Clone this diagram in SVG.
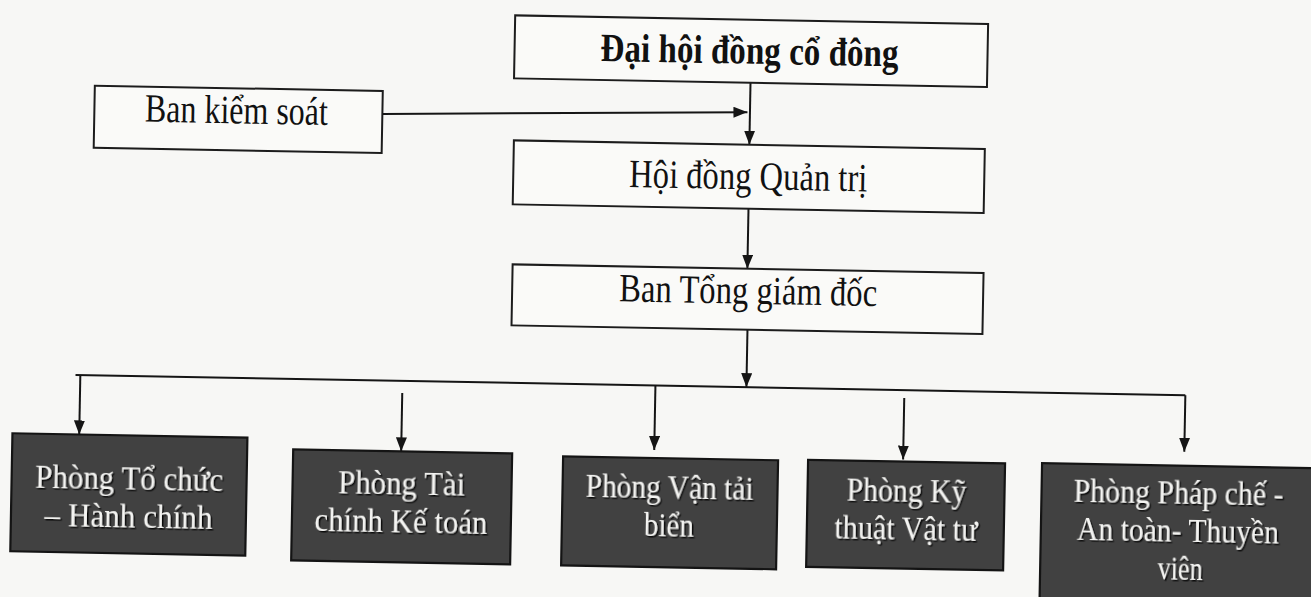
<svg xmlns="http://www.w3.org/2000/svg" width="1311" height="597" viewBox="0 0 1311 597">
<defs>
<style>
.box{fill:#fafaf8;stroke:#1c1c1c;stroke-width:2}
.dark{fill:#414141;stroke:#141414;stroke-width:2.2}
.t{font-family:"Liberation Serif","Times New Roman",serif;font-size:40px;fill:#111;text-anchor:middle}
.b{font-weight:bold}
.w{font-family:"Liberation Serif","Times New Roman",serif;font-size:33px;fill:#f4f4f2;text-anchor:middle;filter:url(#sh)}
.ln{fill:none;stroke:#151515;stroke-width:2}
.ar{marker-end:url(#ah)}
</style>
<marker id="ah" viewBox="0 0 14 11" markerWidth="14" markerHeight="11" refX="14" refY="5.5" orient="auto" markerUnits="userSpaceOnUse"><path d="M0,0 L14,5.5 L0,11 z" fill="#151515"/></marker>
<filter id="sh" x="-10%" y="-30%" width="130%" height="160%"><feDropShadow dx="1.5" dy="1.5" stdDeviation="0.6" flood-color="#000" flood-opacity="0.9"/></filter>
</defs>
<rect x="0" y="0" width="1311" height="597" fill="#f7f7f5"/>
<g transform="rotate(1.05 655 300)">
<g id="connectors">
<line class="ln ar" x1="746.5" y1="81" x2="746.5" y2="143"/>
<line class="ln ar" x1="379" y1="119" x2="744" y2="110.5"/>
<line class="ln ar" x1="746.8" y1="207" x2="746.8" y2="267"/>
<line class="ln ar" x1="748" y1="328" x2="748" y2="385.5"/>
<line class="ln" x1="77" y1="385.5" x2="1187" y2="385.5"/>
<line class="ln ar" x1="81.8" y1="385.5" x2="81.8" y2="445"/>
<line class="ln ar" x1="404" y1="397.6" x2="404" y2="456"/>
<line class="ln ar" x1="657" y1="385.5" x2="657" y2="450"/>
<line class="ln ar" x1="906" y1="393.4" x2="906" y2="455"/>
<line class="ln ar" x1="1187" y1="385.5" x2="1187" y2="442"/>
</g>
<g id="dai-hoi-dong-co-dong">
<rect class="box" x="510" y="18" width="473" height="63"/>
<text class="t b" x="745" y="62" textLength="298" lengthAdjust="spacingAndGlyphs">Đại hội đồng cổ đông</text>
</g>
<g id="ban-kiem-soat">
<rect class="box" x="91" y="96" width="288" height="62"/>
<text class="t" x="233" y="131" textLength="183" lengthAdjust="spacingAndGlyphs">Ban kiểm soát</text>
</g>
<g id="hoi-dong-quan-tri">
<rect class="box" x="511" y="143" width="471" height="64"/>
<text class="t" x="746" y="187.5" textLength="238" lengthAdjust="spacingAndGlyphs">Hội đồng Quản trị</text>
</g>
<g id="ban-tong-giam-doc">
<rect class="box" x="512" y="267" width="471" height="61"/>
<text class="t" x="748" y="302" textLength="258" lengthAdjust="spacingAndGlyphs">Ban Tổng giám đốc</text>
</g>
<g id="phong-to-chuc-hanh-chinh">
<rect class="dark" x="15" y="445" width="235" height="118"/>
<text class="w" x="132.5" y="499" textLength="188" lengthAdjust="spacingAndGlyphs">Phòng Tổ chức</text>
<text class="w" x="132.5" y="537" textLength="168" lengthAdjust="spacingAndGlyphs">– Hành chính</text>
</g>
<g id="phong-tai-chinh-ke-toan">
<rect class="dark" x="296" y="456" width="219" height="111"/>
<text class="w" x="405" y="499" textLength="127" lengthAdjust="spacingAndGlyphs">Phòng Tài</text>
<text class="w" x="405" y="537" textLength="173" lengthAdjust="spacingAndGlyphs">chính Kế toán</text>
</g>
<g id="phong-van-tai-bien">
<rect class="dark" x="566" y="458" width="215" height="109"/>
<text class="w" x="673" y="498" textLength="168" lengthAdjust="spacingAndGlyphs">Phòng Vận tải</text>
<text class="w" x="673" y="536" textLength="50" lengthAdjust="spacingAndGlyphs">biển</text>
</g>
<g id="phong-ky-thuat-vat-tu">
<rect class="dark" x="811" y="457" width="197" height="107"/>
<text class="w" x="910" y="497" textLength="120" lengthAdjust="spacingAndGlyphs">Phòng Kỹ</text>
<text class="w" x="910" y="535" textLength="143" lengthAdjust="spacingAndGlyphs">thuật Vật tư</text>
</g>
<g id="phong-phap-che-an-toan-thuyen-vien">
<rect class="dark" x="1045" y="456" width="290" height="170"/>
<text class="w" x="1182" y="494" textLength="210" lengthAdjust="spacingAndGlyphs">Phòng Pháp chế -</text>
<text class="w" x="1182" y="532" textLength="202" lengthAdjust="spacingAndGlyphs">An toàn- Thuyền</text>
<text class="w" x="1185" y="570" textLength="45" lengthAdjust="spacingAndGlyphs">viên</text>
</g>
</g>
</svg>
